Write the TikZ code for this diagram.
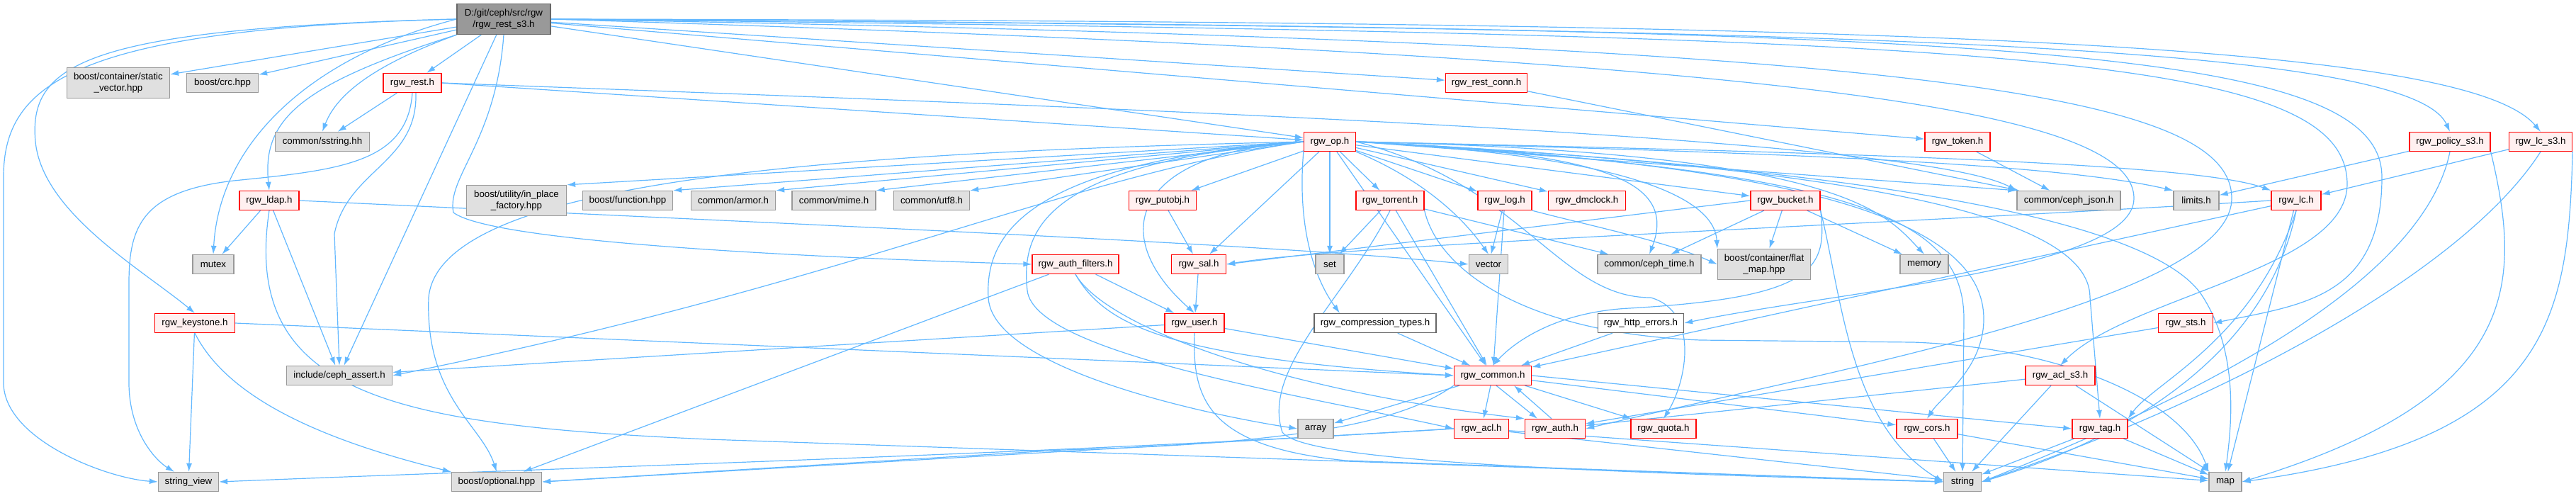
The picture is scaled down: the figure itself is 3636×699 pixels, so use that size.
\documentclass[tikz,border=0pt]{standalone}
\usepackage{fontspec}
\setmainfont{Liberation Sans}
\usetikzlibrary{arrows.meta,backgrounds}
\definecolor{edgeblue}{HTML}{63B8FF}
\definecolor{hdrfill}{HTML}{FFF0F0}
\definecolor{sysfill}{HTML}{E0E0E0}
\definecolor{sysline}{HTML}{999999}
\definecolor{rootfill}{HTML}{999999}
\definecolor{rootline}{HTML}{666666}

\begin{document}
\begin{tikzpicture}[x=1pt, y=-1pt,
  box/.style={draw, line width=1.3pt, inner sep=0pt, minimum height=27pt,
    align=center, font=\fontsize{13.3}{16}\selectfont},
  root/.style={box, draw=rootline, fill=rootfill, minimum height=43pt},
  hdr/.style={box, draw=red, fill=hdrfill},
  sys/.style={box, draw=sysline, fill=sysfill},
  ext/.style={box, draw=rootline, fill=white},
  inc/.style={draw=edgeblue, line width=1.2pt, -{Latex[length=12pt,width=8pt]}}]
  \useasboundingbox (0,0) rectangle (3636,699);

  % 第 0 层：本文件
  \node[root, minimum width=132pt] (top) at (711,27) {D:/git/ceph/src/rgw\\/rgw\_rest\_s3.h};
  % 第 1 层
  \node[sys, minimum width=145pt, minimum height=43pt] (sv) at (167,117) {boost/container/static\\\_vector.hpp};
  \node[sys, minimum width=101pt] (crc) at (314,117) {boost/crc.hpp};
  \node[hdr, minimum width=82pt]  (rest) at (582,117) {rgw\_rest.h};
  \node[hdr, minimum width=115pt] (restconn) at (2098,117) {rgw\_rest\_conn.h};
  % 第 2 层
  \node[sys, minimum width=133pt] (sstring) at (455,200) {common/sstring.hh};
  \node[hdr, minimum width=73pt]  (op) at (1877,200) {rgw\_op.h};
  \node[hdr, minimum width=92pt]  (token) at (2763,200) {rgw\_token.h};
  \node[hdr, minimum width=114pt] (policy) at (3458,200) {rgw\_policy\_s3.h};
  \node[hdr, minimum width=89pt]  (lcs3) at (3586,200) {rgw\_lc\_s3.h};
  % 第 3 层
  \node[hdr, minimum width=84pt]  (ldap) at (380,283) {rgw\_ldap.h};
  \node[sys, minimum width=141pt, minimum height=43pt] (inplace) at (729,283) {boost/utility/in\_place\\\_factory.hpp};
  \node[sys, minimum width=127pt] (func) at (886,283) {boost/function.hpp};
  \node[sys, minimum width=119pt] (armor) at (1035,283) {common/armor.h};
  \node[sys, minimum width=118pt] (mime) at (1177,283) {common/mime.h};
  \node[sys, minimum width=107pt] (utf8) at (1315,283) {common/utf8.h};
  \node[hdr, minimum width=95pt]  (putobj) at (1641,283) {rgw\_putobj.h};
  \node[hdr, minimum width=96pt]  (torrent) at (1962,283) {rgw\_torrent.h};
  \node[hdr, minimum width=76pt]  (log) at (2124,283) {rgw\_log.h};
  \node[hdr, minimum width=109pt] (dmclock) at (2240,283) {rgw\_dmclock.h};
  \node[hdr, minimum width=98pt]  (bucket) at (2520,283) {rgw\_bucket.h};
  \node[sys, minimum width=146pt] (json) at (2920,283) {common/ceph\_json.h};
  \node[sys, minimum width=64pt]  (limits) at (3100,283) {limits.h};
  \node[hdr, minimum width=70pt]  (lc) at (3241,283) {rgw\_lc.h};
  % 第 4 层
  \node[sys, minimum width=58pt]  (mutex) at (301,373) {mutex};
  \node[hdr, minimum width=122pt] (authf) at (1518,373) {rgw\_auth\_filters.h};
  \node[hdr, minimum width=77pt]  (sal) at (1692,373) {rgw\_sal.h};
  \node[sys, minimum width=40pt]  (set) at (1877,373) {set};
  \node[sys, minimum width=55pt]  (vector) at (2101,373) {vector};
  \node[sys, minimum width=146pt] (ctime) at (2328,373) {common/ceph\_time.h};
  \node[sys, minimum width=131pt, minimum height=43pt] (flatmap) at (2490,373) {boost/container/flat\\\_map.hpp};
  \node[sys, minimum width=68pt]  (memory) at (2716,373) {memory};
  % 第 5 层
  \node[hdr, minimum width=113pt] (keystone) at (275,456) {rgw\_keystone.h};
  \node[hdr, minimum width=84pt]  (user) at (1686,456) {rgw\_user.h};
  \node[ext, minimum width=172pt] (comp) at (1941,456) {rgw\_compression\_types.h};
  \node[ext, minimum width=121pt] (http) at (2316,456) {rgw\_http\_errors.h};
  \node[hdr, minimum width=77pt]  (sts) at (3085,456) {rgw\_sts.h};
  % 第 6 层
  \node[sys, minimum width=149pt] (assert) at (479,530) {include/ceph\_assert.h};
  \node[hdr, minimum width=109pt] (common) at (2107,530) {rgw\_common.h};
  \node[hdr, minimum width=98pt]  (acls3) at (2908,530) {rgw\_acl\_s3.h};
  % 第 7 层
  \node[sys, minimum width=50pt]  (array) at (1857,605) {array};
  \node[hdr, minimum width=77pt]  (acl) at (2091,605) {rgw\_acl.h};
  \node[hdr, minimum width=85pt]  (auth) at (2195,605) {rgw\_auth.h};
  \node[hdr, minimum width=92pt]  (quota) at (2348,605) {rgw\_quota.h};
  \node[hdr, minimum width=86pt]  (cors) at (2720,605) {rgw\_cors.h};
  \node[hdr, minimum width=78pt]  (tag) at (2964,605) {rgw\_tag.h};
  % 第 8 层
  \node[sys, minimum width=85pt]  (sview) at (266,680) {string\_view};
  \node[sys, minimum width=127pt] (optional) at (701,680) {boost/optional.hpp};
  \node[sys, minimum width=53pt]  (string) at (2770,680) {string};
  \node[sys, minimum width=46pt]  (map) at (3141,680) {map};

  \begin{pgfonlayer}{background}
  % rgw_rest_s3.h 的包含
  \draw[inc] (top) -- (sv);
  \draw[inc] (top) -- (crc);
  \draw[inc] (top) -- (rest);
  \draw[inc] (top.south west) .. controls (560,80) and (480,120) .. (sstring.north);
  \draw[inc] (top.south west) .. controls (420,120) and (370,170) .. (ldap.north);
  \draw[inc] (top.west) .. controls (440,80) and (310,200) .. (mutex.north);
  \draw[inc] (top.west) .. controls (120,40) and (40,90) .. (50,200) .. controls (60,300) and (200,380) .. (keystone.north);
  \draw[inc] (top.west) .. controls (100,40) and (5,120) .. (5,250) -- (5,540) .. controls (5,620) and (150,675) .. (sview.west);
  \draw[inc] (top) -- (assert);
  \draw[inc] (top.south) .. controls (700,200) and (630,250) .. (640,300) .. controls (700,345) and (1200,365) .. (authf.west);
  \draw[inc] (top) -- (restconn);
  \draw[inc] (top) -- (op);
  \draw[inc] (top) -- (token);
  \draw[inc] (top.east) .. controls (2600,40) and (3400,60) .. (policy.north);
  \draw[inc] (top.east) .. controls (2700,30) and (3480,60) .. (lcs3.north);
  \draw[inc] (top.east) .. controls (2800,40) and (3362,60) .. (3362,250) .. controls (3362,420) and (3250,430) .. (sts.east);
  \draw[inc] (top.east) .. controls (2800,50) and (3313,70) .. (3313,260) .. controls (3313,380) and (3000,420) .. (acls3.north);
  \draw[inc] (top.east) .. controls (2500,80) and (3012,150) .. (3012,280) .. controls (3012,380) and (2600,410) .. (http.east);
  \draw[inc] (top.east) .. controls (2700,60) and (3150,130) .. (3150,280) .. controls (3150,420) and (2600,520) .. (auth.east);

  % rgw_rest.h
  \draw[inc] (rest) -- (sstring);
  \draw[inc] ([xshift=5pt]rest.south) .. controls (590,230) and (490,240) .. (472,330) -- (assert.north);
  \draw[inc] (rest.south) .. controls (575,230) and (480,240) .. (330,255) .. controls (200,270) and (182,320) .. (182,400) -- (182,540) .. controls (182,610) and (220,650) .. ([xshift=-20pt]sview.north);
  \draw[inc] (rest.east) -- (op);
  \draw[inc] (rest.east) .. controls (1500,150) and (2700,190) .. (json.north west);

  % rgw_ldap.h, rgw_keystone.h
  \draw[inc] (ldap) -- (mutex);
  \draw[inc] (ldap) -- (assert);
  \draw[inc] (ldap.east) .. controls (1200,320) and (1800,345) .. (vector.west);
  \draw[inc] (ldap.south) .. controls (340,560) and (560,600) .. (1000,620) -- (string.west);
  \draw[inc] (keystone) -- (sview);
  \draw[inc] (keystone.south) .. controls (320,560) and (450,620) .. (optional.north west);
  \draw[inc] (keystone.east) -- (common.west);

  % 右侧各头文件
  \draw[inc] (restconn) -- (json);
  \draw[inc] (token) -- (json);
  \draw[inc] (policy) -- (limits);
  \draw[inc] (policy.south) .. controls (3420,400) and (3100,560) .. (string.east);
  \draw[inc] (policy.south east) .. controls (3560,400) and (3560,560) .. (map.east);
  \draw[inc] (lcs3) -- (lc);
  \draw[inc] (lcs3.south) .. controls (3480,380) and (3150,560) .. (string.east);
  \draw[inc] (lcs3.south east) .. controls (3625,450) and (3600,620) .. (map.east);
  \draw[inc] (lc.west) .. controls (2600,320) and (1900,345) .. (sal.east);
  \draw[inc] (lc) -- (common);
  \draw[inc] (lc.south) .. controls (3180,480) and (3040,540) .. (tag.north east);
  \draw[inc] (lc.south) .. controls (3200,500) and (3000,620) .. (string.east);
  \draw[inc] (lc) -- (map);
  \draw[inc] (putobj) -- (sal);
  \draw[inc] (sal) -- (user);

  % rgw_op.h
  \draw[inc] (op.west) -- (inplace.north east);
  \draw[inc] (op.west) -- (func.north east);
  \draw[inc] (op.west) -- (armor.north east);
  \draw[inc] (op.west) -- (mime.north east);
  \draw[inc] (op.west) -- (utf8.north east);
  \draw[inc] (op) -- (putobj);
  \draw[inc] (op) -- (sal);
  \draw[inc] (op.west) .. controls (1600,215) and (1560,330) .. (user.north);
  \draw[inc] (op.west) .. controls (1500,250) and (1200,400) .. (assert.east);
  \draw[inc] (op.west) .. controls (1200,215) and (620,250) .. (605,420) .. controls (600,560) and (680,600) .. (optional.north);
  \draw[inc] (op.west) .. controls (1450,230) and (1390,330) .. (1395,420) .. controls (1400,520) and (1700,585) .. (array.west);
  \draw[inc] (op.west) .. controls (1480,230) and (1440,320) .. (1450,410) .. controls (1460,500) and (1850,560) .. (acl.west);
  \draw[inc] (op.south west) .. controls (1830,330) and (1860,400) .. ([xshift=-50pt]comp.north);
  \draw[inc] (op) -- (set);
  \draw[inc] (op) -- (torrent);
  \draw[inc] (op.south east) .. controls (2000,250) and (2060,300) .. (vector.north);
  \draw[inc] (op) -- (log);
  \draw[inc] (op) -- (dmclock);
  \draw[inc] (op.east) .. controls (2250,215) and (2370,250) .. (ctime.north);
  \draw[inc] (op) -- (bucket);
  \draw[inc] (op.east) .. controls (2300,220) and (2420,280) .. (flatmap.north west);
  \draw[inc] (op.east) .. controls (2600,215) and (2660,300) .. (memory.north);
  \draw[inc] (op.east) -- (json.north west);
  \draw[inc] (op.east) .. controls (2500,215) and (2900,230) .. (limits.north west);
  \draw[inc] (op.east) .. controls (2600,215) and (3100,230) .. (lc.north west);
  \draw[inc] (op) -- (common);
  \draw[inc] (op.east) .. controls (2150,260) and (2200,420) .. (2330,420) .. controls (2400,440) and (2380,540) .. (quota.north);
  \draw[inc] (op.east) .. controls (2500,230) and (2800,300) .. (2800,450) .. controls (2800,520) and (2740,560) .. (cors.north);
  \draw[inc] (op.east) .. controls (2600,235) and (2950,300) .. (2950,420) -- (tag.north);
  \draw[inc] (op.east) .. controls (2600,240) and (2772,300) .. (2772,450) -- (string.north);
  \draw[inc] (op.east) .. controls (2700,240) and (3050,320) .. (3110,420) .. controls (3160,500) and (3150,600) .. (map.north);

  % rgw_torrent.h, rgw_log.h, rgw_bucket.h
  \draw[inc] (torrent) -- (set);
  \draw[inc] (torrent) -- (ctime);
  \draw[inc] (torrent) -- (common);
  \draw[inc] (torrent.south) .. controls (1900,420) and (1780,520) .. (1810,610) .. controls (1840,650) and (2200,665) .. (string.west);
  \draw[inc] (torrent.south east) .. controls (2030,380) and (2150,470) .. (2400,480) -- (2700,483) .. controls (2900,490) and (3080,560) .. (map.north west);
  \draw[inc] (log) -- (vector);
  \draw[inc] (log) -- (common);
  \draw[inc] (log.south east) .. controls (2250,320) and (2350,340) .. (flatmap.west);
  \draw[inc] (bucket.west) -- (sal.east);
  \draw[inc] (bucket) -- (ctime);
  \draw[inc] (bucket) -- (flatmap);
  \draw[inc] (bucket) -- (memory);
  \draw[inc] (bucket.south east) .. controls (2580,380) and (2560,420) .. (2300,435) .. controls (2200,440) and (2140,480) .. (common.north);
  \draw[inc] (bucket.south east) .. controls (2600,420) and (2610,600) .. (string.west);

  % rgw_auth_filters.h, rgw_user.h
  \draw[inc] (authf) -- (user);
  \draw[inc] (authf) -- (optional);
  \draw[inc] (authf.south) .. controls (1560,460) and (1650,505) .. (common.west);
  \draw[inc] (authf.south) .. controls (1560,460) and (1800,550) .. (auth.north west);
  \draw[inc] (user) -- (assert);
  \draw[inc] (user) -- (common);
  \draw[inc] (user.south) .. controls (1683,560) and (1700,630) .. (1900,650) -- (string.west);
  \draw[inc] (comp) -- (common);
  \draw[inc] (http) -- (common);
  \draw[inc] (sts) -- (auth);
  \draw[inc] (acls3) -- (auth);
  \draw[inc] (acls3) -- (string);
  \draw[inc] (acls3) -- (map);

  % rgw_common.h 及以下
  \draw[inc] (common) -- (array);
  \draw[inc] (common) -- (acl);
  \draw[inc] ([xshift=5pt]common.south) -- ([xshift=-25pt]auth.north);
  \draw[inc] ([xshift=-5pt]auth.north) -- ([xshift=30pt]common.south);
  \draw[inc] (common) -- (quota);
  \draw[inc] (common) -- (cors);
  \draw[inc] (common.east) -- (tag.west);
  \draw[inc] (common.south west) .. controls (2000,580) and (1900,625) .. (1500,635) -- (optional.east);
  \draw[inc] (acl.west) .. controls (1500,640) and (800,660) .. (sview.east);
  \draw[inc] (acl.west) -- (optional.east);
  \draw[inc] (acl) -- (string);
  \draw[inc] (acl) -- (map);
  \draw[inc] (cors) -- (string);
  \draw[inc] (cors) -- (map);
  \draw[inc] (tag) -- (string);
  \draw[inc] (tag) -- (map);
  \end{pgfonlayer}
\end{tikzpicture}
\end{document}
